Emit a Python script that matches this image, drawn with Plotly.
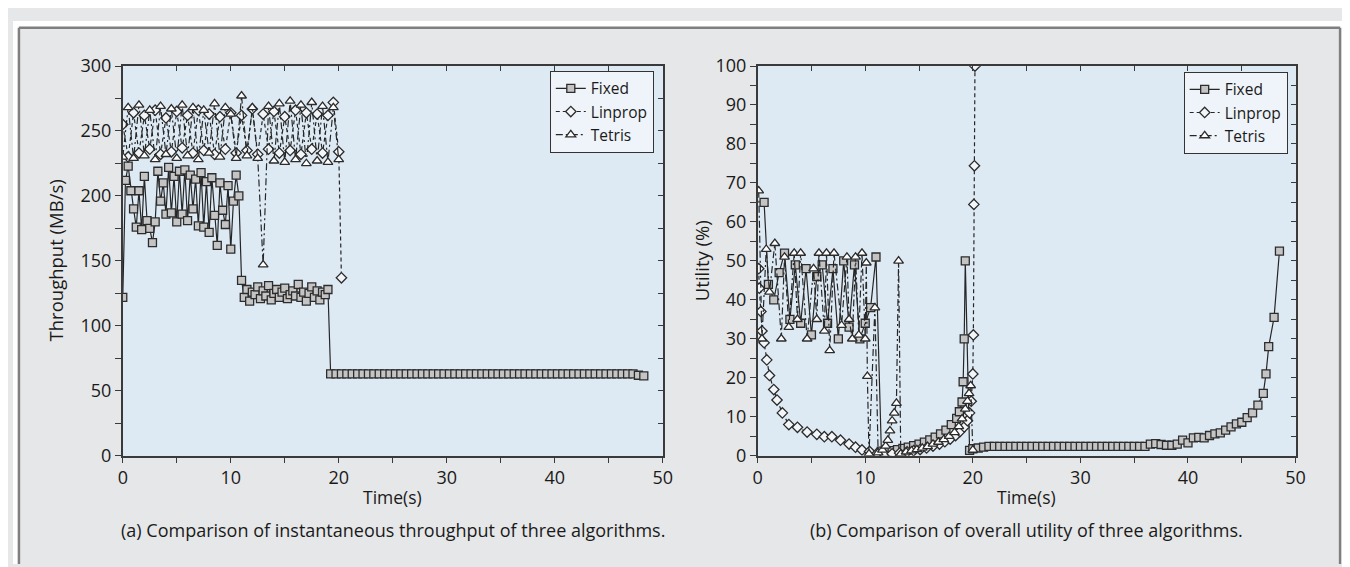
import numpy as np
import plotly.graph_objects as go

W, H = 1350, 567

# ---------------- data: (a) throughput (MB/s) ----------------
fixed_a_t = np.concatenate([np.arange(0, 11.001, 0.25), np.arange(11.25, 19.001, 0.25), np.arange(19.25, 48.251, 0.5)])
fixed_a_v = [122, 212, 223, 204, 190, 176, 204, 174, 215, 181,
             175, 164, 180, 219, 196, 210, 186, 222, 187, 215,
             180, 219, 186, 220, 181, 216, 190, 213, 177, 218,
             176, 211, 172, 214, 185, 162, 210, 189, 178, 208,
             159, 196, 216, 200, 135,
             122, 128, 119, 126, 124, 130, 121, 127, 123, 131,
             120, 125, 128, 122, 126, 129, 121, 124, 127, 123,
             132, 122, 126, 119, 125, 130, 122, 127, 120, 126,
             124, 128,
             63, 63, 63, 63, 63, 63, 63, 63, 63, 63,
             63, 63, 63, 63, 63, 63, 63, 63, 63, 63,
             63, 63, 63, 63, 63, 63, 63, 63, 63, 63,
             63, 63, 63, 63, 63, 63, 63, 63, 63, 63,
             63, 63, 63, 63, 63, 63, 63, 63, 63, 63,
             63, 63, 63, 63, 63, 63, 63, 62, 61.5]

linprop_a_t = list(np.arange(0, 20.001, 0.5)) + [20.25]
linprop_a_v = [255, 230, 264, 233, 262, 236, 266, 232, 260, 234,
               265, 237, 262, 233, 266, 235, 263, 232, 261, 236,
               264, 233, 262, 235, 267, 232, 263, 236, 265, 233,
               261, 235, 266, 232, 264, 236, 263, 233, 262, 272,
               234, 137]

tetris_a_t = np.arange(0, 20.001, 0.5)
tetris_a_v = [230, 268, 229, 270, 231, 266, 228, 269, 232, 267,
              229, 270, 231, 268, 228, 266, 233, 271, 230, 268,
              263, 229, 277, 231, 268, 229, 147, 269, 227, 271,
              226, 273, 228, 270, 225, 272, 227, 269, 226, 268,
              228]

# ---------------- data: (b) utility (%) ----------------
fixed_b_t = ([0.6, 1.0, 1.5, 2.0, 2.5, 3.0, 3.5, 4.0, 4.5, 5.0,
              5.5, 6.0, 6.5, 7.0, 7.5, 8.0, 8.5, 9.0, 9.5, 10.0,
              10.5, 11.0, 11.5, 12.0, 12.5, 13.0, 13.5, 14.0, 14.5, 15.0,
              15.5, 16.0, 16.5, 17.0, 17.5, 18.0, 18.5, 18.75, 19.0, 19.1,
              19.2, 19.3, 19.7, 20.0, 20.5, 21.0]
             + list(np.arange(21.5, 36.001, 0.5))
             + [36.5, 37.0, 37.5, 38.0, 38.5, 39.0, 39.5, 40.0, 40.5, 41.0,
                41.5, 42.0, 42.5, 43.0, 43.5, 44.0, 44.5, 45.0, 45.5, 46.0,
                46.5, 47.0, 47.25, 47.5, 48.0, 48.5])
fixed_b_v = ([65, 44, 40, 47, 52, 35, 49, 34, 48, 31,
              46, 49, 34, 48, 30, 50, 33, 49, 30, 34,
              38, 51, 1.2, 1.0, 1.3, 1.6, 1.9, 2.2, 2.6, 3.0,
              3.5, 4.1, 4.8, 5.6, 6.6, 8.0, 9.6, 11.3, 13.8, 19,
              30, 50, 1.4, 1.8, 2.0, 2.2]
             + [2.4] * 30
             + [3.0, 3.1, 2.9, 2.7, 2.7, 3.0, 4.0, 3.3, 4.6, 4.7,
                4.6, 5.2, 5.6, 5.9, 6.6, 7.4, 8.2, 8.6, 9.8, 11.0,
                13.0, 16.0, 21.0, 28.0, 35.5, 52.5])

linprop_b_t = [0.1, 0.15, 0.3, 0.4, 0.6, 0.85, 1.1, 1.5, 1.8, 2.3,
               2.9, 3.7, 4.6, 5.5, 6.2, 6.9, 7.7, 8.5, 9.1, 9.7,
               10.4, 11.1, 11.8, 12.5, 13.2, 13.9, 14.5, 15.1, 15.7, 16.3,
               16.9, 17.4, 17.9, 18.4, 18.8, 19.2, 19.5, 19.7, 19.85, 20.0,
               20.05, 20.1, 20.15, 20.2]
linprop_b_v = [48, 43, 37, 32, 29, 24.6, 20.6, 17, 14.3, 11,
               8, 7.3, 6.1, 5.5, 4.9, 4.9, 4.0, 3.0, 2.2, 1.5,
               1.1, 0.6, 0.4, 0.5, 0.7, 1.0, 1.3, 1.6, 2.0, 2.5,
               3.0, 3.6, 4.3, 5.2, 6.2, 7.4, 9.0, 11.0, 14.0, 21.0,
               31.0, 64.5, 74.4, 100]

tetris_b_t = [0.1, 0.4, 0.8, 1.1, 1.6, 2.2, 2.5, 2.9, 3.4, 3.7,
              4.0, 4.6, 5.2, 5.5, 5.7, 6.2, 6.4, 6.7, 7.1, 7.8,
              8.3, 8.5, 8.8, 9.1, 9.4, 9.7, 10.0, 10.1, 10.2, 10.35,
              10.9, 11.2, 11.6, 11.9, 12.1, 12.3, 12.5, 12.7, 12.9, 13.1,
              13.3, 13.8, 14.3, 14.8, 15.3, 15.8, 16.3, 16.8, 17.3, 17.8,
              18.3, 18.7, 19.0, 19.3, 19.5, 19.65, 19.8, 20.0]
tetris_b_v = [68, 30, 53, 42, 54.5, 30, 51, 33, 52, 35,
              52, 30, 48, 35, 52, 32, 52, 27, 52, 33.5,
              51, 35, 30, 51, 31, 52, 30, 49.5, 20.4, 0.5,
              38, 0.8, 1.5, 2.5, 4.0, 6.4, 9.0, 11.0, 13.5, 50,
              0.5, 1.0, 1.3, 1.6, 2.0, 2.4, 3.0, 3.5, 4.2, 5.0,
              6.0, 7.5, 9.5, 12.0, 14.0, 16.0, 18.0, 1.5]

captions = ["(a) Comparison of instantaneous throughput of three algorithms.",
            "(b) Comparison of overall utility of three algorithms."]
x_title = "Time(s)"
y_titles = ["Throughput (MB/s)", "Utility (%)"]

# ---------------- styling ----------------
FONT = "Open Sans"
TXT = "#1a1a1a"
LINE = "#262626"
AX = "#3a3a3a"
PLOTBG = "#ddeaf4"
PANEL = "#e6e7e8"

styles = {
    "Fixed": dict(symbol="square", fill="#c4c4c4", dash="solid", size=8),
    "Linprop": dict(symbol="diamond", fill="#f3f6f9", dash="4px,3px", size=8),
    "Tetris": dict(symbol="triangle-up", fill="#ffffff", dash="7px,3px,2px,3px", size=8.5),
}

fig = go.Figure()

def add(name, t, v, xa, ya, legend):
    s = styles[name]
    fig.add_trace(go.Scatter(
        x=t, y=v, name=name, mode="lines+markers", xaxis=xa, yaxis=ya, legend=legend,
        line=dict(color=LINE, width=1.2, dash=s["dash"]),
        marker=dict(symbol=s["symbol"], size=s["size"], color=s["fill"],
                    line=dict(color="#2c2c2c", width=1.3)),
        hoverinfo="x+y"))

add("Fixed", fixed_a_t, fixed_a_v, "x", "y", "legend")
add("Linprop", linprop_a_t, linprop_a_v, "x", "y", "legend")
add("Tetris", tetris_a_t, tetris_a_v, "x", "y", "legend")
add("Fixed", fixed_b_t, fixed_b_v, "x2", "y2", "legend2")
add("Linprop", linprop_b_t, linprop_b_v, "x2", "y2", "legend2")
add("Tetris", tetris_b_t, tetris_b_v, "x2", "y2", "legend2")

# dummy traces so mirrored (inside-tick) axes are drawn
for xa, ya in (("x3", "y3"), ("x4", "y4")):
    fig.add_trace(go.Scatter(x=[None], y=[None], xaxis=xa, yaxis=ya, showlegend=False, hoverinfo="skip"))

L_A, R_A, L_B, R_B = 111, 657, 753, 1297
TOP, BOT = 47, 454
dom_a = [L_A / W, R_A / W]
dom_b = [L_B / W, R_B / W]
dom_y = [1 - BOT / H, 1 - TOP / H]

tickfont = dict(family=FONT, size=18, color=TXT)
common = dict(showgrid=False, zeroline=False, showline=True, linecolor=AX, linewidth=1.5,
              tickcolor=AX, tickwidth=1.2, tickfont=tickfont)

def xmain(dom, anchor):
    return dict(domain=dom, anchor=anchor, range=[0, 50], dtick=10, ticks="outside", ticklen=5,
                minor=dict(dtick=5, ticks="outside", ticklen=5, tickcolor=AX, tickwidth=1.2),
                **common)

def ymain(dom, anchor, rng, dt, mdt):
    return dict(domain=dom, anchor=anchor, range=rng, dtick=dt, ticks="outside", ticklen=6,
                minor=dict(dtick=mdt, ticks="outside", ticklen=6, tickcolor=AX, tickwidth=1.2),
                **common)

def xmirror(over, anchor):
    return dict(overlaying=over, anchor=anchor, side="top", range=[0, 50], dtick=5, ticks="inside",
                ticklen=5, showticklabels=False, **common)

def ymirror(over, anchor, rng, dt):
    return dict(overlaying=over, anchor=anchor, side="right", range=rng, dtick=dt, ticks="inside",
                ticklen=5, showticklabels=False, **common)

legend_style = dict(bgcolor="#eef4f9", bordercolor="#333333", borderwidth=1,
                    font=dict(family=FONT, size=15.5, color=TXT), itemwidth=30,
                    tracegroupgap=0, xanchor="right", yanchor="top")

fig.update_layout(
    width=W, height=H, margin=dict(l=0, r=0, t=0, b=0),
    paper_bgcolor=PANEL, plot_bgcolor=PLOTBG,
    font=dict(family=FONT, size=16, color=TXT),
    xaxis=xmain(dom_a, "y"),
    yaxis=ymain(dom_y, "x", [0, 300], 50, 25),
    xaxis2=xmain(dom_b, "y2"),
    yaxis2=ymain(dom_y, "x2", [0, 100], 10, 5),
    xaxis3=xmirror("x", "y"),
    yaxis3=ymirror("y", "x", [0, 300], 25),
    xaxis4=xmirror("x2", "y2"),
    yaxis4=ymirror("y2", "x2", [0, 100], 5),
    legend=dict(x=648 / W, y=1 - 52 / H, **legend_style),
    legend2=dict(x=1289 / W, y=1 - 53 / H, **legend_style),
    showlegend=True,
)

# outer frame: white margins and grey border lines
frame = "#7f7f7f"
for x0, x1, y0, y1 in ((0, 6 / W, 0, 1), (1342 / W, 1, 0, 1), (0, 1, 1 - 7 / H, 1)):
    fig.add_shape(type="rect", xref="paper", yref="paper", x0=x0, x1=x1, y0=y0, y1=y1,
                  fillcolor="white", line=dict(width=0), layer="above")
for x0, x1, y0, y1 in ((6 / W, 6 / W, 0, 1 - 7 / H), (1342 / W, 1342 / W, 0, 1 - 7 / H),
                       (6 / W, 1342 / W, 1 - 7 / H, 1 - 7 / H)):
    fig.add_shape(type="line", xref="paper", yref="paper", x0=x0, x1=x1, y0=y0, y1=y1,
                  line=dict(color=frame, width=2.5), layer="above")

centers = [(L_A + R_A) / 2 / W, (L_B + R_B) / 2 / W]
for cx, text in zip(centers, captions):
    fig.add_annotation(x=cx, y=1 - 531 / H, xref="paper", yref="paper", text=text, showarrow=False,
                       xanchor="center", yanchor="middle", font=dict(family=FONT, size=18, color=TXT))
for cx in centers:
    fig.add_annotation(x=cx, y=1 - 497 / H, xref="paper", yref="paper", text=x_title, showarrow=False,
                       xanchor="center", yanchor="middle", font=dict(family=FONT, size=17.5, color=TXT))
for px, text in zip([43, 697], y_titles):
    fig.add_annotation(x=px / W, y=1 - (TOP + BOT) / 2 / H, xref="paper", yref="paper", text=text,
                       showarrow=False, textangle=-90, xanchor="center", yanchor="middle",
                       font=dict(family=FONT, size=18.5, color=TXT))

fig.write_html("out.html")
